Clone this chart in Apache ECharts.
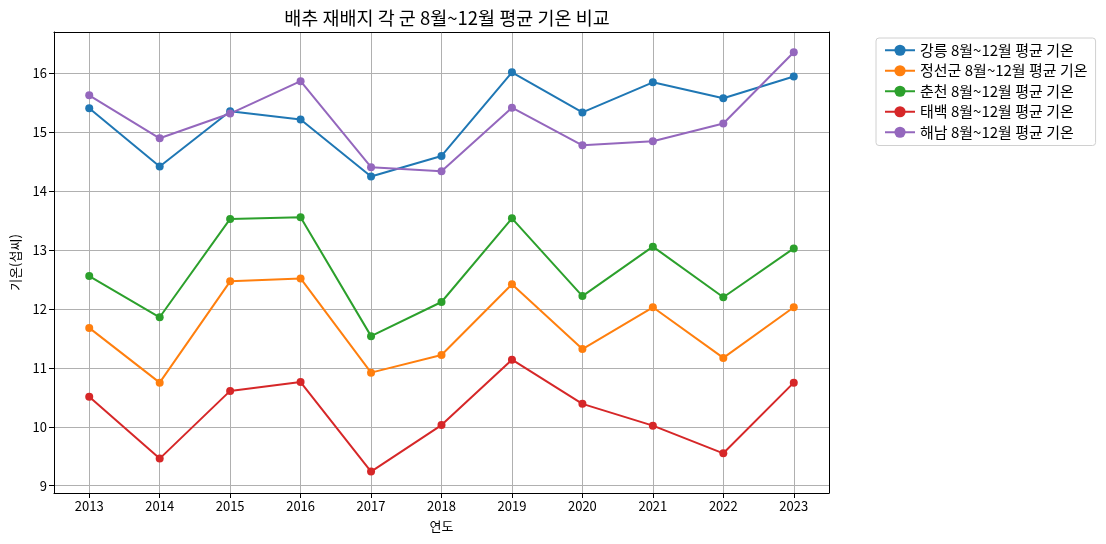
<!DOCTYPE html>
<html>
<head>
<meta charset="utf-8">
<script src="https://cdn.jsdelivr.net/npm/echarts@6/dist/echarts.min.js"></script>
<style>
  html, body { margin: 0; padding: 0; background: #fff; }
  #chart { width: 1106px; height: 544px; }
</style>
</head>
<body>
<div id="chart"></div>
<script>
var years = [2013, 2014, 2015, 2016, 2017, 2018, 2019, 2020, 2021, 2022, 2023];
var seriesNames = ['강릉', '정선군', '춘천', '태백', '해남'];
var gangneung = [15.41, 14.42, 15.36, 15.22, 14.25, 14.60, 16.02, 15.34, 15.85, 15.58, 15.95];
var jeongseon = [11.68, 10.75, 12.47, 12.52, 10.92, 11.22, 12.42, 11.32, 12.03, 11.17, 12.03];
var chuncheon = [12.56, 11.86, 13.53, 13.56, 11.54, 12.12, 13.54, 12.22, 13.06, 12.20, 13.03];
var taebaek = [10.51, 9.46, 10.61, 10.76, 9.24, 10.03, 11.14, 10.39, 10.02, 9.55, 10.75];
var haenam = [15.63, 14.90, 15.32, 15.87, 14.41, 14.34, 15.42, 14.78, 14.85, 15.15, 16.36];

var allValues = [gangneung, jeongseon, chuncheon, taebaek, haenam];
var colors = ['#1f77b4', '#ff7f0e', '#2ca02c', '#d62728', '#9467bd'];
var font = '"Noto Sans CJK KR", "DejaVu Sans", sans-serif';
var xRange = [2012.5, 2023.5];
var yRange = [8.876, 16.705];

var series = seriesNames.map(function (name, i) {
  return {
    name: name + ' 8월~12월 평균 기온',
    type: 'line',
    data: years.map(function (y, j) { return [y, allValues[i][j]]; }),
    symbol: 'circle',
    symbolSize: 8,
    color: colors[i],
    lineStyle: { width: 2 },
    itemStyle: { opacity: 1 },
    emphasis: { disabled: true },
    animation: false
  };
});

// only integer ticks get a label (min/max edges stay blank)
var intLabel = function (v) {
  return Math.abs(v - Math.round(v)) < 1e-6 ? String(Math.round(v)) : '';
};

// plain frame lines for top / right
var frameAxis = function (pos, range) {
  return {
    type: 'value', position: pos, min: range[0], max: range[1],
    axisLine: { show: true, onZero: false, lineStyle: { color: '#000', width: 1 } },
    axisTick: { show: false }, axisLabel: { show: false }, splitLine: { show: false }
  };
};

var myChart = echarts.init(document.getElementById('chart'));
var option = {
  backgroundColor: '#fff',
  animation: false,
  textStyle: { fontFamily: font },
  title: {
    text: '배추 재배지 각 군 8월~12월 평균 기온 비교',
    left: 442,
    textAlign: 'center',
    top: 4,
    textStyle: { fontSize: 18.5, fontWeight: 'normal', color: '#000', fontFamily: font }
  },
  grid: {
    left: 54, top: 32, right: 277, bottom: 51
  },
  legend: {
    orient: 'vertical',
    left: 876,
    top: 38,
    padding: [4, 8, 5, 8],
    itemGap: 4,
    itemWidth: 30,
    itemHeight: 14,
    backgroundColor: '#fff',
    borderColor: '#d0d0d0',
    borderWidth: 1,
    borderRadius: 3,
    textStyle: { fontSize: 15, color: '#000', fontFamily: font, lineHeight: 16.5 },
    data: series.map(function (s) { return s.name; })
  },
  xAxis: [{
    type: 'value',
    position: 'bottom',
    min: xRange[0],
    max: xRange[1],
    splitNumber: 11,
    name: '연도',
    nameLocation: 'middle',
    nameGap: 27,
    nameTextStyle: { fontSize: 13, color: '#000' },
    axisLine: { show: true, onZero: false, lineStyle: { color: '#000', width: 1 } },
    axisTick: { show: true, length: 5, lineStyle: { color: '#000' } },
    axisLabel: { color: '#000', fontSize: 13, margin: 7, formatter: intLabel, showMinLabel: false, showMaxLabel: false },
    splitLine: { show: true, lineStyle: { color: '#b0b0b0', width: 1 } }
  }, frameAxis('top', xRange)],
  yAxis: [{
    type: 'value',
    position: 'left',
    min: yRange[0],
    max: yRange[1],
    splitNumber: 8,
    name: '기온(섭씨)',
    nameLocation: 'middle',
    nameGap: 32,
    nameTextStyle: { fontSize: 13, color: '#000' },
    axisLine: { show: true, onZero: false, lineStyle: { color: '#000', width: 1 } },
    axisTick: { show: true, length: 5, lineStyle: { color: '#000' } },
    axisLabel: { color: '#000', fontSize: 13, margin: 7, formatter: intLabel, showMinLabel: false, showMaxLabel: false },
    splitLine: { show: true, lineStyle: { color: '#b0b0b0', width: 1 } }
  }, frameAxis('right', yRange)],
  series: series
};
myChart.setOption(option, true);
</script>
</body>
</html>
